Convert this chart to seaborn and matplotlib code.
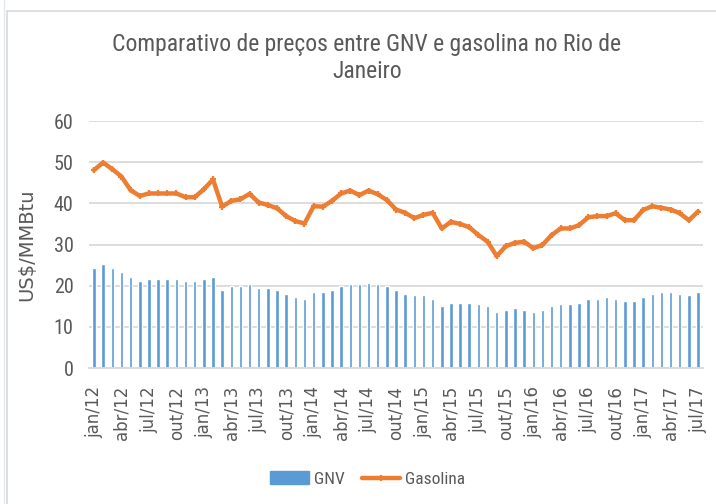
import numpy as np
import pandas as pd
import matplotlib
matplotlib.use("Agg")
import matplotlib.pyplot as plt
from matplotlib.lines import Line2D
from matplotlib.patches import Patch
import seaborn as sns

# Monthly labels, jan/12 .. jul/17
month_abbr = ["jan", "fev", "mar", "abr", "mai", "jun",
              "jul", "ago", "set", "out", "nov", "dez"]
months = [f"{m}/{y:02d}" for y in range(12, 18) for m in month_abbr][:67]

# Prices in US$/MMBtu
gnv = [
    24.4, 25.2, 24.4, 23.4, 22.1, 21.1, 21.6, 21.6, 21.6, 21.6, 21.1, 21.1,
    21.6, 22.1, 18.9, 19.9, 19.9, 20.3, 19.4, 19.4, 18.9, 18.0, 17.2, 16.8,
    18.5, 18.5, 18.9, 19.9, 20.3, 20.3, 20.7, 20.3, 19.9, 18.9, 18.0, 17.7,
    17.7, 16.8, 15.0, 15.9, 15.9, 15.9, 15.5, 15.0, 13.6, 14.1, 14.5, 14.1,
    13.6, 14.1, 15.0, 15.5, 15.5, 15.9, 16.8, 16.8, 17.2, 16.8, 16.3, 16.3,
    17.2, 18.0, 18.5, 18.5, 18.0, 17.7, 18.5,
]
gasolina = [
    48.1, 49.9, 48.3, 46.5, 43.2, 41.8, 42.4, 42.4, 42.4, 42.4, 41.5, 41.5,
    43.4, 45.8, 39.2, 40.6, 41.0, 42.3, 40.2, 39.6, 38.8, 36.9, 35.7, 35.1,
    39.3, 39.2, 40.6, 42.4, 43.1, 42.0, 43.1, 42.2, 40.8, 38.5, 37.7, 36.4,
    37.2, 37.7, 33.9, 35.5, 35.0, 34.2, 32.3, 30.7, 27.2, 29.6, 30.4, 30.7,
    29.1, 29.9, 32.3, 33.9, 33.9, 34.7, 36.6, 36.9, 36.9, 37.6, 35.9, 35.9,
    38.4, 39.3, 38.9, 38.5, 37.6, 35.9, 38.0,
]
y_ticks = [0, 10, 20, 30, 40, 50, 60]

BLUE = "#5B9BD5"
ORANGE = "#ED7D31"
TEXT = "#595959"
GRID = "#D9D9D9"
NARROW = ["Roboto Condensed", "Roboto", "DejaVu Sans"]
WIDE = ["DejaVu Sans"]

sns.set_theme(style="white")
plt.rcParams["font.family"] = NARROW

df = pd.DataFrame({"mes": months, "pos": np.arange(len(months)),
                   "GNV": gnv, "Gasolina": gasolina})

fig = plt.figure(figsize=(7.16, 5.04), dpi=100)
ax = fig.add_axes([0.1249, 0.2698, 0.8564, 0.4901])

sns.barplot(data=df, x="mes", y="GNV", order=months, color=BLUE,
            width=0.38, saturation=1, ax=ax, zorder=2)
sns.lineplot(data=df, x="pos", y="Gasolina", color=ORANGE, lw=3.2,
             marker="+", markersize=5, markeredgewidth=1.6,
             markeredgecolor=ORANGE, ax=ax, zorder=3)

ax.set_xlim(-0.5, len(months) - 0.5)
ax.set_ylim(0, 60)
ax.set_yticks(y_ticks)
ax.set_yticklabels([str(v) for v in y_ticks], fontsize=14.5, color=TEXT,
                   family=NARROW)
ax.set_xticks(np.arange(0, len(months), 3))
ax.set_xticklabels(months[::3], rotation=90, fontsize=12, color=TEXT,
                   family=WIDE, va="top", ha="center")
ax.tick_params(axis="both", length=0)
ax.tick_params(axis="y", pad=11.5)
ax.tick_params(axis="x", pad=13)

ax.grid(axis="y", color=GRID, lw=1.3, zorder=0)
ax.set_axisbelow(True)
for side in ["top", "right", "left"]:
    ax.spines[side].set_visible(False)
ax.spines["bottom"].set_color(GRID)
ax.spines["bottom"].set_linewidth(1.3)

ax.set_xlabel("")
ax.set_ylabel("US$/MMBtu", fontsize=14, color=TEXT, family=WIDE)
ax.yaxis.set_label_coords(-0.0865, 0.5)

fig.text(367 / 716, 1 - 33 / 504,
         "Comparativo de preços entre GNV e gasolina no Rio de\nJaneiro",
         ha="center", va="top", fontsize=17, color=TEXT, family=NARROW,
         linespacing=1.2)

handles = [Patch(facecolor=BLUE, edgecolor=BLUE, label="GNV"),
           Line2D([0], [0], color=ORANGE, lw=3.2, marker="+", markersize=5,
                  markeredgewidth=1.6, label="Gasolina")]
fig.legend(handles=handles, loc="center", ncol=2, frameon=False,
           bbox_to_anchor=(368 / 716, 1 - 479 / 504),
           prop={"family": NARROW, "size": 12.5}, labelcolor=TEXT,
           handlelength=2.2, handleheight=0.8, handletextpad=0.3,
           columnspacing=1.0)

# Chart frame
H = 504.0
W = 716.0
fig.add_artist(Line2D([7.3 / W, 7.3 / W], [0, 1 - 11 / H], color=GRID,
                      lw=1.2, transform=fig.transFigure))
fig.add_artist(Line2D([7.3 / W, 1], [1 - 11 / H, 1 - 11 / H], color=GRID,
                      lw=1.2, transform=fig.transFigure))
fig.add_artist(Line2D([4 / W, 4 / W], [0, 1], color="#E3E7EE",
                      lw=1.0, transform=fig.transFigure))

fig.savefig("out.png", dpi=100, facecolor="white")
